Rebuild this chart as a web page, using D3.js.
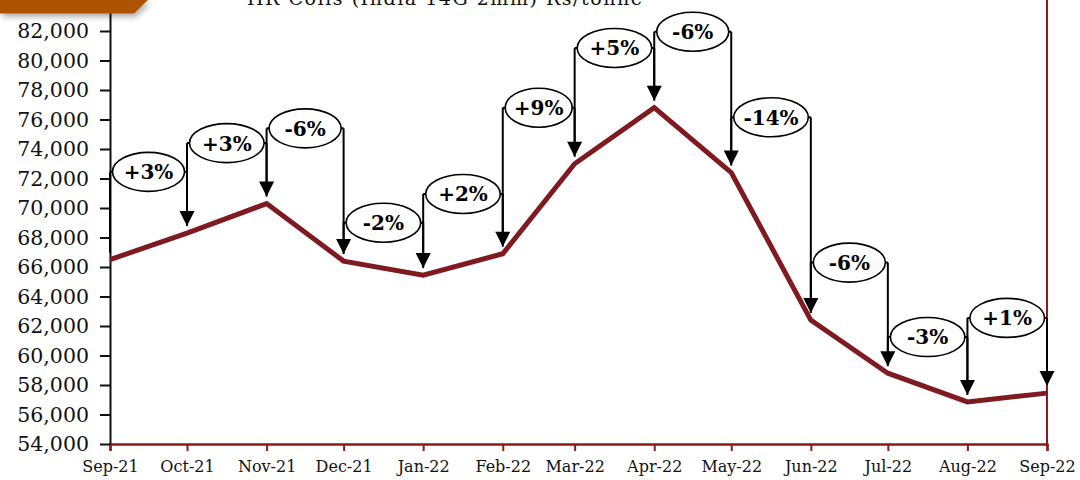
<!DOCTYPE html>
<html>
<head>
<meta charset="utf-8">
<script src="https://cdn.jsdelivr.net/npm/d3@7"></script>
<style>
  body { margin: 0; background: #fff; }
  svg { display: block; }
</style>
</head>
<body>
<svg id="chart"></svg>
<script>
// HR coil prices, monthly
const months = ["2021-09-01", "2021-10-01", "2021-11-01", "2021-12-01", "2022-01-01", "2022-02-01",
    "2022-03-01", "2022-04-01", "2022-05-01", "2022-06-01", "2022-07-01", "2022-08-01", "2022-09-01"];
const prices = [66500, 68300, 70300, 66400, 65450, 66900, 73000, 76800, 72400, 62400, 58800, 56850, 57450];

// month-on-month change callouts (one per step)
const changeLabels = ["+3%", "+3%", "-6%", "-2%", "+2%", "+9%", "+5%", "-6%", "-14%", "-6%", "-3%", "+1%"];
// level (Rs/tonne) at which each callout bubble sits
const changeLevels = [72450, 74400, 75400, 69000, 70950, 76800, 80850, 81950, 76150, 66300, 61250, 62550];

const yTicks = d3.range(54000, 82001, 2000);
const title = "HR Coils (India 14G 2mm) Rs/tonne";

const width = 1080;
const height = 480;
const margin = { top: 1.5, right: 33, bottom: 36, left: 110 };
const lineColor = "#7f1a20";
const axisRed = "#8b1a1a";

const parse = d3.timeParse("%Y-%m-%d");
const dates = months.map(parse);

const svg = d3.select("#chart")
    .attr("width", width)
    .attr("height", height);

const x = d3.scaleTime()
    .domain(d3.extent(dates))
    .range([margin.left, width - margin.right]);

const y = d3.scaleLinear()
    .domain([54000, 84000])
    .range([height - margin.bottom, margin.top]);

const defs = svg.append("defs");
const shadow = defs.append("filter").attr("id", "shadow")
    .attr("x", "-20%").attr("y", "-50%").attr("width", "140%").attr("height", "250%");
shadow.append("feDropShadow")
    .attr("dx", 2).attr("dy", 3).attr("stdDeviation", 3)
    .attr("flood-color", "#000").attr("flood-opacity", 0.35);

// title (sits partly above the top edge, as in the original)
svg.append("text")
    .attr("x", 247)
    .attr("y", 5)
    .attr("font-family", "DejaVu Serif, serif")
    .attr("font-size", 19)
    .attr("textLength", 395)
    .attr("fill", "#111")
    .text(title);

// right frame line
svg.append("line")
    .attr("x1", x(dates[dates.length - 1])).attr("x2", x(dates[dates.length - 1]))
    .attr("y1", 0).attr("y2", y(54000))
    .attr("stroke", axisRed).attr("stroke-width", 2);

// x axis
const xAxis = svg.append("g")
    .attr("transform", `translate(0,${y(54000)})`)
    .call(d3.axisBottom(x).tickValues(dates).tickFormat(d3.timeFormat("%b-%y")).tickSize(7).tickPadding(10));
xAxis.select(".domain").attr("stroke", axisRed).attr("stroke-width", 2.5);
xAxis.selectAll(".tick line").attr("stroke", axisRed).attr("stroke-width", 2);
xAxis.selectAll("text")
    .attr("font-family", "DejaVu Serif, serif")
    .attr("font-size", 16)
    .attr("fill", "#111");

// y axis
const yAxis = svg.append("g")
    .attr("transform", `translate(${margin.left},0)`)
    .call(d3.axisLeft(y).tickValues(yTicks).tickFormat(d3.format(",")).tickSize(10).tickPadding(11).tickSizeOuter(0));
yAxis.select(".domain").attr("stroke", "#111").attr("stroke-width", 2);
yAxis.selectAll(".tick line").attr("stroke", "#111").attr("stroke-width", 2);
yAxis.selectAll("text")
    .attr("font-family", "DejaVu Serif, serif")
    .attr("font-size", 20.5)
    .attr("fill", "#111");

// price line
const line = d3.line()
    .x((d, i) => x(dates[i]))
    .y(d => y(d));

svg.append("path")
    .datum(prices)
    .attr("fill", "none")
    .attr("stroke", lineColor)
    .attr("stroke-width", 5)
    .attr("stroke-linejoin", "miter")
    .attr("d", line);

// callouts: bubble between two months, legs down to each point, arrow to the later one
const gap = 7;
const head = 15;
const callouts = svg.append("g").attr("class", "callouts");

changeLabels.forEach((label, i) => {
    const x0 = x(dates[i]);
    const x1 = x(dates[i + 1]);
    const cy = y(changeLevels[i]);
    const g = callouts.append("g");

    // left leg
    g.append("line")
        .attr("x1", x0).attr("x2", x0)
        .attr("y1", cy).attr("y2", y(prices[i]) - gap)
        .attr("stroke", "#000").attr("stroke-width", 2);

    // right leg with arrow
    const tipY = y(prices[i + 1]) - gap;
    g.append("line")
        .attr("x1", x1).attr("x2", x1)
        .attr("y1", cy).attr("y2", tipY - head + 2)
        .attr("stroke", "#000").attr("stroke-width", 2);
    g.append("path")
        .attr("d", `M${x1 - 7.5},${tipY - head} L${x1 + 7.5},${tipY - head} L${x1},${tipY} Z`)
        .attr("fill", "#000");

    // stubs + bubble
    const rx = (x1 - x0) / 2 - 2.5;
    g.append("line")
        .attr("x1", x0).attr("x2", x1)
        .attr("y1", cy).attr("y2", cy)
        .attr("stroke", "#000").attr("stroke-width", 2);
    g.append("ellipse")
        .attr("cx", (x0 + x1) / 2)
        .attr("cy", cy)
        .attr("rx", rx)
        .attr("ry", 19.5)
        .attr("fill", "#fff")
        .attr("stroke", "#000")
        .attr("stroke-width", 1.6);
    g.append("text")
        .attr("x", (x0 + x1) / 2)
        .attr("y", cy)
        .attr("dy", "0.37em")
        .attr("text-anchor", "middle")
        .attr("font-family", "DejaVu Serif, serif")
        .attr("font-weight", "bold")
        .attr("font-size", 20)
        .attr("fill", "#000")
        .text(label);
});

// orange tab in the top-left corner
svg.append("path")
    .attr("d", "M0,0 L148,0 L134,13.5 L0,13.5 Z")
    .attr("fill", "#ad5200")
    .attr("filter", "url(#shadow)");
</script>
</body>
</html>
